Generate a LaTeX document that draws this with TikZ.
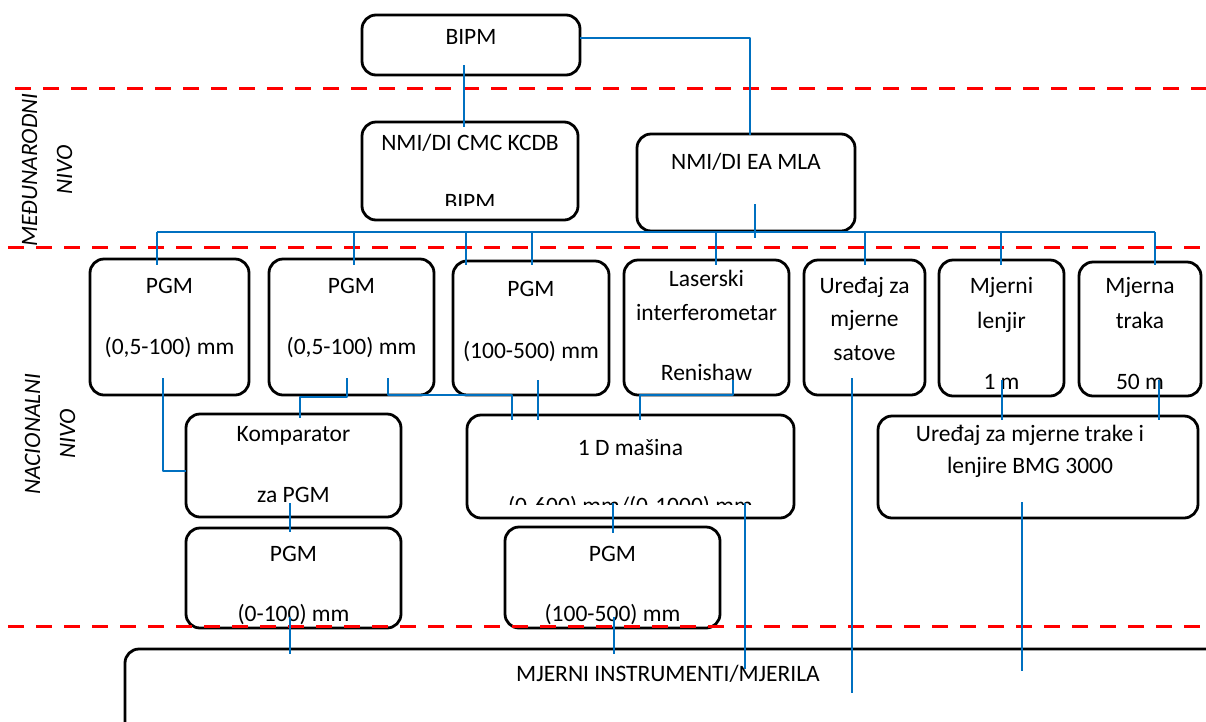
\documentclass[tikz,border=0pt]{standalone}
\usepackage{fontspec}
\setmainfont{Carlito}
\usepackage{tikz}
\definecolor{vezaplava}{RGB}{0,112,192}

\begin{document}
\begin{tikzpicture}[x=1pt,y=-1pt,line join=round,
  blok/.style={draw=black,line width=2.8pt,rounded corners=14pt,inner sep=0pt},
  veza/.style={draw=vezaplava,line width=2.6pt},
  nivo/.style={draw=red,line width=3pt,dash pattern=on 16pt off 12pt},
  txt/.style={anchor=base,inner sep=0pt,font=\fontsize{23.5}{28}\selectfont},
  oznaka/.style={rotate=90,align=center,inner sep=0pt,font=\fontsize{23.5}{35}\selectfont\itshape}]
\clip (0,0) rectangle (1206,721);
% blokovi
\node[blok,minimum width=218,minimum height=60] (bipm) at (471,45) {};
\node[blok,minimum width=216,minimum height=98] (cmc) at (470,171) {};
\node[blok,minimum width=218,minimum height=97] (eamla) at (746,182.5) {};
\node[blok,minimum width=159,minimum height=136] (pgmA) at (169.5,327) {};
\node[blok,minimum width=165,minimum height=136] (pgmB) at (351.5,327) {};
\node[blok,minimum width=156,minimum height=134] (pgmC) at (531,328) {};
\node[blok,minimum width=165,minimum height=135] (laser) at (706.5,327.5) {};
\node[blok,minimum width=121,minimum height=135] (satove) at (864.5,327.5) {};
\node[blok,minimum width=125,minimum height=136] (lenjir) at (1001.5,328) {};
\node[blok,minimum width=122,minimum height=134] (traka) at (1140,329) {};
\node[blok,minimum width=215,minimum height=103] (komp) at (293.5,465.5) {};
\node[blok,minimum width=327,minimum height=103] (jedanD) at (630.5,466.5) {};
\node[blok,minimum width=320,minimum height=102] (bmg) at (1038,467) {};
\node[blok,minimum width=215,minimum height=100] (pgmD) at (293.5,578) {};
\node[blok,minimum width=215,minimum height=101] (pgmE) at (612.5,577.5) {};
\node[blok,minimum width=1115,minimum height=111] (mjerni) at (682.5,704.5) {};
% tekstovi
\node[txt] (bipmT) at (471,44) {BIPM};
\node[txt] (cmcT) at (470,150) {NMI/DI CMC KCDB};
\begin{scope}
  \clip (362,122) rectangle (578,205);
  \node[txt] (cmcB) at (470,209) {BIPM};
\end{scope}
\node[txt] (eamlaT) at (746,169) {NMI/DI EA MLA};
\node[txt] (pgmAT) at (169.5,293) {PGM};
\node[txt] (pgmAR) at (169.5,354) {(0,5-100) mm};
\node[txt] (pgmBT) at (351.5,293) {PGM};
\node[txt] (pgmBR) at (351.5,354) {(0,5-100) mm};
\node[txt] (pgmCT) at (531,296) {PGM};
\node[txt] (pgmCR) at (531,358) {(100-500) mm};
\node[txt] (laserA) at (706.5,286) {Laserski};
\node[txt] (laserB) at (706.5,320) {interferometar};
\node[txt] (laserC) at (706.5,380) {Renishaw};
\node[txt] (satoveA) at (864.5,293) {Uređaj za};
\node[txt] (satoveB) at (864.5,326) {mjerne};
\node[txt] (satoveC) at (864.5,360) {satove};
\node[txt] (lenjirA) at (1001.5,293) {Mjerni};
\node[txt] (lenjirB) at (1001.5,328) {lenjir};
\node[txt] (lenjirC) at (1001.5,389) {1 m};
\node[txt] (trakaA) at (1140,293) {Mjerna};
\node[txt] (trakaB) at (1140,328) {traka};
\node[txt] (trakaC) at (1140,389) {50 m};
\node[txt] (kompA) at (293.5,441) {Komparator};
\node[txt] (kompB) at (293.5,502) {za PGM};
\node[txt] (jedanDA) at (630.5,455) {1 D mašina};
\begin{scope}
  \clip (467,415) rectangle (794,504);
  \node[txt] (jedanDB) at (630.5,513) {(0-600) mm/(0-1000) mm};
\end{scope}
\node[txt] (bmgA) at (1030,441) {Uređaj za mjerne trake i};
\node[txt] (bmgB) at (1030,473) {lenjire BMG 3000};
\node[txt] (pgmDT) at (293.5,561) {PGM};
\node[txt] (pgmDR) at (293.5,621) {(0-100) mm};
\node[txt] (pgmET) at (612.5,561) {PGM};
\node[txt] (pgmER) at (612.5,621) {(100-500) mm};
\node[txt] (mjerniT) at (668,681) {MJERNI INSTRUMENTI/MJERILA};
\node[oznaka] (medjunarodni) at (47,170) {MEĐUNARODNI\\NIVO};
\node[oznaka] (nacionalni) at (50,434) {NACIONALNI\\NIVO};
% nivoi
\draw[nivo] (15,88) -- (1206,88);
\draw[nivo] (8,247) -- (1206,247);
\draw[nivo] (8,626) -- (1206,626);
% veze
\coordinate (bipmS) at (464,65);
\coordinate (cmcN) at (464,127);
\coordinate (bipmE) at (580,38);
\coordinate (eamlaN) at (750,135);
\coordinate (eamlaS) at (755,204);
\coordinate (sabirL) at (157,232);
\coordinate (sabirD) at (1155,232);
\draw[veza] (bipmS) -- (cmcN);
\draw[veza] (bipmE) -| (eamlaN);
\draw[veza] (eamlaS) -- (755,238);
\draw[veza] (sabirL) -- (sabirD);
\foreach \x in {157,354,466,532,716,865,1001,1155}
  \draw[veza] (\x,232) -- (\x,265);
\coordinate (pgmAS) at (163,378);
\coordinate (kompW) at (186,471);
\coordinate (pgmBS) at (347,378);
\coordinate (kompN) at (300,418);
\coordinate (pgmBS2) at (388,378);
\coordinate (jedanDN1) at (512,420);
\coordinate (pgmCS) at (538,380);
\coordinate (jedanDN2) at (538,420);
\coordinate (laserS) at (733,380);
\coordinate (jedanDN3) at (640,420);
\draw[veza] (pgmAS) |- (kompW);
\draw[veza] (pgmBS) -- (347,397) -| (kompN);
\draw[veza] (pgmBS2) -- (388,395) -| (jedanDN1);
\draw[veza] (pgmCS) -- (jedanDN2);
\draw[veza] (laserS) -- (733,395) -| (jedanDN3);
\coordinate (satoveS) at (852,378);
\coordinate (satoveK) at (852,693);
\coordinate (lenjirS) at (1002,380);
\coordinate (bmgN1) at (1002,420);
\coordinate (trakaS) at (1159,380);
\coordinate (bmgN2) at (1159,420);
\draw[veza] (satoveS) -- (satoveK);
\draw[veza] (lenjirS) -- (bmgN1);
\draw[veza] (trakaS) -- (bmgN2);
\coordinate (kompS) at (290,503);
\coordinate (pgmDN) at (290,532);
\coordinate (pgmDS) at (290,617);
\coordinate (mjerniN1) at (290,654);
\coordinate (jedanDS1) at (613,503);
\coordinate (pgmEN) at (613,533);
\coordinate (pgmES) at (614,617);
\coordinate (mjerniN2) at (614,654);
\coordinate (jedanDS2) at (745,503);
\coordinate (jedanDK) at (745,669);
\coordinate (bmgS) at (1022,502);
\coordinate (bmgK) at (1022,671);
\draw[veza] (kompS) -- (pgmDN);
\draw[veza] (pgmDS) -- (mjerniN1);
\draw[veza] (jedanDS1) -- (pgmEN);
\draw[veza] (pgmES) -- (mjerniN2);
\draw[veza] (jedanDS2) -- (jedanDK);
\draw[veza] (bmgS) -- (bmgK);
\end{tikzpicture}
\end{document}
